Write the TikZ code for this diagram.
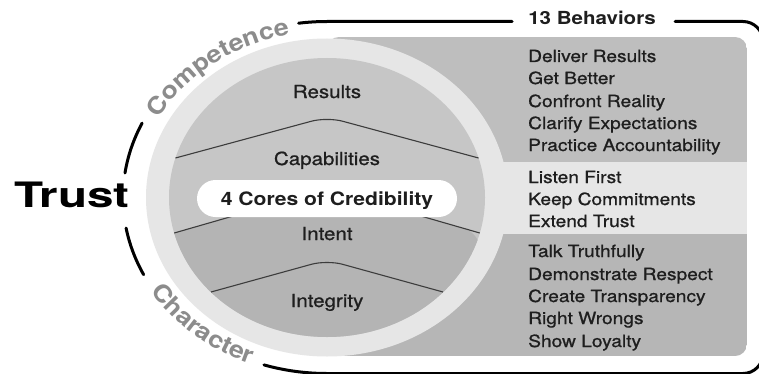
\documentclass[tikz,border=0pt]{standalone}
\usepackage{fontspec}
\setmainfont[FakeStretch=1.14]{TeX Gyre Heros}
\newfontfamily\medfont[FakeStretch=1.14, FakeBold=0.9]{TeX Gyre Heros}
\newfontfamily\widefont[FakeStretch=1.36]{TeX Gyre Heros}
\usetikzlibrary{decorations.text}

\definecolor{ringgray}{HTML}{E6E6E6}
\definecolor{upgray}{HTML}{C6C6C6}
\definecolor{lowgray}{HTML}{B4B4B4}
\definecolor{panelup}{HTML}{BEBEBE}
\definecolor{panellow}{HTML}{B6B6B6}
\definecolor{ink}{HTML}{1E1E1E}
\definecolor{arcgray}{HTML}{8C8C8C}
\definecolor{divider}{HTML}{3C3C3C}

\begin{document}
\begin{tikzpicture}[x=1pt,y=1pt,
  outline/.style={line width=3pt, black, line cap=round},
  divline/.style={divider, line width=1.1pt, rounded corners=16pt},
  corelabel/.style={font=\medfont\fontsize{18}{18}\selectfont, text=ink, anchor=base, inner sep=0pt},
  behavior/.style={font=\medfont\fontsize{16.8}{17}\selectfont, text=ink, anchor=base west, inner sep=0pt},
  capsule/.style={fill=white, rounded corners=18.5pt, minimum width=260pt, minimum height=37pt,
    inner sep=0pt, text height=13pt, text depth=0pt, text=ink,
    font=\fontsize{18.5}{18.5}\selectfont\bfseries},
  arclabel/.style={decorate, decoration={text along path, text align=center, text color=arcgray,
    text={|\fontsize{23.5}{23.5}\selectfont\bfseries|#1}}},
]
\useasboundingbox (0,0) rectangle (759,373);
\fill[white] (0,0) rectangle (759,373);
\coordinate (C) at (327,175.5);

% behaviours panel in three bands
\begin{scope}
  \clip[rounded corners=12pt] (327,17) rectangle (747,336);
  \fill[panelup] (327,211) rectangle (747,336);
  \fill[ringgray] (327,139) rectangle (747,211);
  \fill[panellow] (327,17) rectangle (747,139);
\end{scope}

% light ring
\fill[ringgray] (C) ellipse[x radius=181, y radius=159];

% inner disc: competence half above, character half below
\begin{scope}
  \clip (C) ellipse[x radius=158, y radius=139.5];
  \fill[upgray] (160,20) rectangle (500,340);
  \fill[lowgray, rounded corners=16pt] (174.2,140) -- (327,184) -- (479.8,140)
    [sharp corners] -- (479.8,20) -- (174.2,20) -- cycle;
\end{scope}

% dividing lines of the four cores
\draw[divline] (175.5,215) -- (327,256) -- (478.5,215);
\draw[divline] (174.2,140) -- (327,184) -- (479.8,140);
\draw[divline] (211,81) -- (327,113) -- (443,81);

% core labels
\node[corelabel] (results) at (327,275) {Results};
\node[corelabel] (capab) at (327,208) {Capabilities};
\node[corelabel] (intent) at (327,133) {Intent};
\node[corelabel] (integ) at (327,66) {Integrity};
\node[capsule] (cores) at (327,174.5) {4 Cores of Credibility};

% behaviours
\foreach \t/\yy [count=\i] in {Deliver Results/311, Get Better/289, Confront Reality/266,
    Clarify Expectations/244, Practice Accountability/222, Listen First/190,
    Keep Commitments/168, Extend Trust/146, Talk Truthfully/116,
    Demonstrate Respect/93, Create Transparency/71, Right Wrongs/49, Show Loyalty/26}
  \node[behavior] (b\i) at (528,\yy) {\t};

% titles
\node[font=\fontsize{18}{18}\selectfont\bfseries, text=ink, anchor=base, inner sep=0pt]
  (behaviors) at (592,348) {13 Behaviors};
\node[font=\widefont\fontsize{35}{35}\selectfont\bfseries, text=black, anchor=base, inner sep=0pt]
  (trust) at (72,166) {Trust};

% outer frame
\draw[outline] ([shift={(98:204 and 176)}]C) arc[start angle=98, end angle=90, x radius=204, y radius=176]
  -- (512,351.5);
\draw[outline] (675,351.5) -- (743,351.5) arc[start angle=90, end angle=0, radius=20]
  -- (763,19.5) arc[start angle=0, end angle=-90, radius=20] -- (327,-0.5)
  arc[start angle=270, end angle=252, x radius=204, y radius=176];
\draw[outline] ([shift={(155:204 and 176)}]C) arc[start angle=155, end angle=172, x radius=204, y radius=176];
\draw[outline] ([shift={(190:204 and 176)}]C) arc[start angle=190, end angle=206, x radius=204, y radius=176];

% arc captions
\path[arclabel=Competence] ([shift={(162:191 and 166)}]C) arc[start angle=162, end angle=92, x radius=191, y radius=166];
\path[arclabel=Character] ([shift={(192:207 and 179)}]C) arc[start angle=192, end angle=266, x radius=207, y radius=179];
\end{tikzpicture}
\end{document}
